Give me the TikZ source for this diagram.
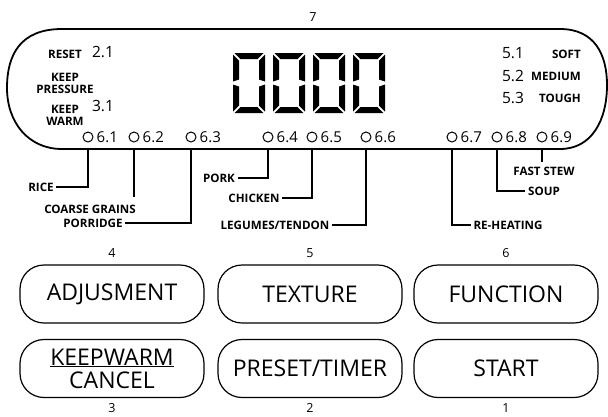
\documentclass[tikz,border=0pt]{standalone}
\usepackage{fontspec}
\setmainfont{Open Sans}
\usetikzlibrary{positioning}
\tikzset{
  panel/.style   = {line width=1.8pt},
  btn/.style     = {draw, line width=1.2pt, rounded corners=24pt,
                    minimum width=184pt, minimum height=58pt, align=center,
                    font=\fontsize{23}{23}\selectfont},
  num/.style     = {font=\fontsize{12.5}{15}\selectfont, inner sep=1pt},
  val/.style     = {font=\fontsize{15.5}{19}\selectfont, inner sep=1pt},
  ledlab/.style  = {font=\fontsize{15}{15}\selectfont, inner sep=1pt},
  mode/.style    = {font=\bfseries\fontsize{11.6}{12}\selectfont, inner sep=2.5pt, align=center},
  tagline/.style = {mode, text height=8.2pt, text depth=0pt},
  led/.style     = {draw, circle, line width=1pt, minimum size=10pt, inner sep=0pt},
  wire/.style    = {line width=1.3pt},
}

\begin{document}
\begin{tikzpicture}[x=1pt,y=-1pt]
  \useasboundingbox (0,0) rectangle (608,416);
  % display frame
  \draw[panel] (62,29) -- (560,29) .. controls (595,29) and (607,55) .. (607,85)
    .. controls (607,120) and (592,149) .. (560,149) -- (62,149)
    .. controls (28,149) and (7,122) .. (7,88) .. controls (7,55) and (20,29) .. (62,29) -- cycle;
  \coordinate (bl) at (0,149);
  \node[num] (n7) at (313,17) {7};
  % four segment digits
  \foreach \x in {233,273,313,353}{
    \begin{scope}[shift={(\x,53)}]
      \fill (1.5,0) -- (30.5,0) -- (24.5,6) -- (7.5,6) -- cycle;
      \fill (1.5,60) -- (30.5,60) -- (24.5,54) -- (7.5,54) -- cycle;
      \fill (0,1.5) -- (6,7.5) -- (6,26.5) -- (0,28.5) -- cycle;
      \fill (0,31.5) -- (6,33.5) -- (6,52.5) -- (0,58.5) -- cycle;
      \fill (32,1.5) -- (26,7.5) -- (26,26.5) -- (32,28.5) -- cycle;
      \fill (32,31.5) -- (26,33.5) -- (26,52.5) -- (32,58.5) -- cycle;
    \end{scope}}
  % left and right settings
  \node[mode] (reset) at (65,54) {RESET};
  \node[val] (v21) at (103,52) {2.1};
  \node[mode] (kpress) at (65,83) {KEEP\\PRESSURE};
  \node[mode] (kwarm) at (65,115) {KEEP\\WARM};
  \node[val] (v31) at (103,106) {3.1};
  \foreach \i/\y/\t in {1/54/SOFT,2/76.5/MEDIUM,3/98.5/TOUGH}{
    \node[val] (v5\i) at (513,\y-0.5) {5.\i};
    \node[mode,anchor=east] (tx\i) at (583.5,\y) {\t};}
  % indicator row
  \foreach \x [count=\i] in {88,134,191,268,312,366,452,497,542}{
    \node[led] (led\i) at (\x,137) {};
    \node[ledlab,right=2pt of led\i] (lab\i) {6.\i};}
  % programme labels
  \node[tagline] (rice) at (41,187) {RICE};
  \node[tagline] (coarse) at (90,209) {COARSE GRAINS};
  \node[tagline] (porridge) at (93,223) {PORRIDGE};
  \node[tagline] (pork) at (219,178) {PORK};
  \node[tagline] (chicken) at (254,198) {CHICKEN};
  \node[tagline] (legumes) at (275,225) {LEGUMES/TENDON};
  \node[tagline] (reheat) at (508,225) {RE-HEATING};
  \node[tagline] (soup) at (544,191) {SOUP};
  \node[tagline] (stew) at (544,171) {FAST STEW};
  \draw[wire] (led1 |- bl) |- (rice);
  \draw[wire,shorten >=5pt] (led2 |- bl) -- (led2 |- coarse.north);
  \draw[wire] (led3 |- bl) |- (porridge);
  \draw[wire] (led4 |- bl) |- (pork);
  \draw[wire] (led5 |- bl) |- (chicken);
  \draw[wire] (led6 |- bl) |- (legumes);
  \draw[wire] (led7 |- bl) |- (reheat);
  \draw[wire] (led8 |- bl) |- (soup);
  \draw[wire,shorten >=2pt] (led9 |- bl) -- (led9 |- stew.north);
  % buttons
  \node[btn] (adjust) at (112,294) {ADJUSMENT};
  \node[btn] (texture) at (310,294) {TEXTURE};
  \node[btn] (function) at (506,294) {FUNCTION};
  \node[btn] (cancel) at (112,368.5) {\underline{KEEPWARM}\\CANCEL};
  \node[btn] (preset) at (310,368.5) {PRESET/TIMER};
  \node[btn] (start) at (506,368.5) {START};
  \node[num,above=6pt of adjust] (n4) {4};
  \node[num,above=6pt of texture] (n5) {5};
  \node[num,above=6pt of function] (n6) {6};
  \node[num,below=4pt of cancel] (n3) {3};
  \node[num,below=4pt of preset] (n2) {2};
  \node[num,below=4pt of start] (n1) {1};
\end{tikzpicture}
\end{document}
